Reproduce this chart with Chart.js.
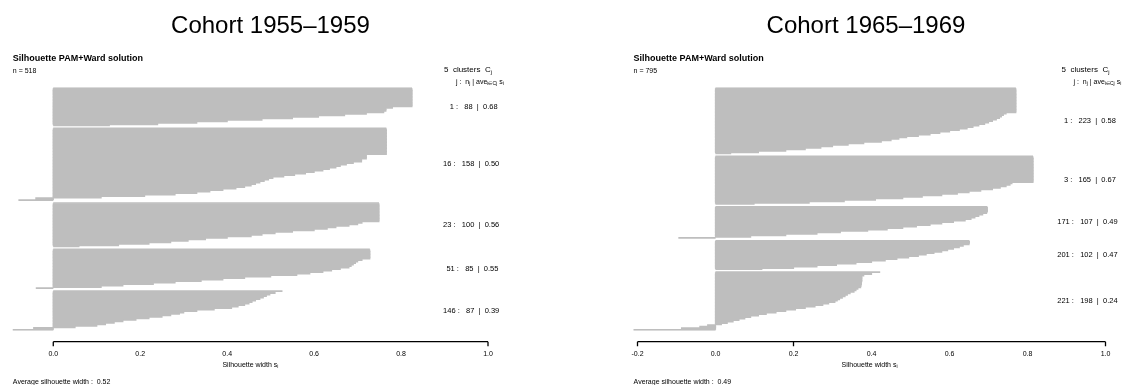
<!DOCTYPE html>
<html>
<head>
<meta charset="utf-8">
<script src="https://cdn.jsdelivr.net/npm/chart.js@4.4.1/dist/chart.umd.min.js"></script>
<style>
  html, body { margin: 0; padding: 0; background: #fff; }
  #wrap { position: relative; width: 1126px; height: 385px; overflow: hidden; }
  .panel { position: absolute; top: 0; width: 563px; height: 385px; }
</style>
</head>
<body>
<div id="wrap">
  <div class="panel" style="left:0"><canvas id="early" width="563" height="385"></canvas></div>
  <div class="panel" style="left:563px"><canvas id="late" width="563" height="385"></canvas></div>
</div>
<script>
// silhouette widths, one bar per entry, sorted inside each cluster

// Cohort 1955-1959
const early1 = [0.825, 0.825, 0.825, 0.825, 0.825, 0.825, 0.825, 0.825, 0.825, 0.825, 0.825, 0.825, 0.825,
  0.78, 0.765, 0.765, 0.76, 0.72, 0.67, 0.61, 0.55, 0.48, 0.40, 0.33, 0.24, 0.13];
const early2 = [0.766, 0.766, 0.766, 0.766, 0.766, 0.766, 0.766, 0.766, 0.766, 0.766, 0.766, 0.766, 0.766,
  0.766, 0.766, 0.766, 0.766, 0.766, 0.72, 0.72, 0.72, 0.709, 0.709, 0.69, 0.674, 0.66, 0.65, 0.635, 0.62,
  0.60, 0.58, 0.555, 0.53, 0.505, 0.495, 0.485, 0.475, 0.465, 0.455, 0.44, 0.42, 0.39, 0.36, 0.33, 0.28,
  0.21, 0.11, -0.04, -0.08];
const early3 = [0.749, 0.749, 0.749, 0.749, 0.749, 0.749, 0.749, 0.749, 0.749, 0.749, 0.749, 0.749, 0.749,
  0.71, 0.70, 0.68, 0.65, 0.63, 0.60, 0.55, 0.51, 0.48, 0.455, 0.40, 0.35, 0.31, 0.27, 0.22, 0.15, 0.06];
const early4 = [0.728, 0.728, 0.728, 0.728, 0.728, 0.728, 0.728, 0.71, 0.70, 0.695, 0.69, 0.685, 0.68,
  0.66, 0.64, 0.62, 0.59, 0.56, 0.50, 0.44, 0.39, 0.34, 0.28, 0.23, 0.16, 0.11, -0.04];
const early5 = [0.527, 0.51, 0.498, 0.49, 0.483, 0.475, 0.465, 0.457, 0.45, 0.44, 0.425, 0.41, 0.37, 0.33,
  0.30, 0.29, 0.27, 0.25, 0.22, 0.19, 0.16, 0.14, 0.12, 0.10, 0.05, -0.045, -0.093];
const earlyIds = ['1', '16', '23', '51', '146'];
const earlySizes = [88, 158, 100, 85, 87];
const earlyAvg = ['0.68', '0.50', '0.56', '0.55', '0.39'];
const earlyN = 518;
const earlyOverall = '0.52';
const earlyTicks = [0, 0.2, 0.4, 0.6, 0.8, 1.0];
const earlyTickLabels = ['0.0', '0.2', '0.4', '0.6', '0.8', '1.0'];
const earlyTickMarks = [0, 1.0];

// Cohort 1965-1969
const late1 = [0.77, 0.77, 0.77, 0.77, 0.77, 0.77, 0.77, 0.77, 0.77, 0.77, 0.77, 0.77, 0.77, 0.77, 0.77,
  0.77, 0.77, 0.745, 0.738, 0.733, 0.728, 0.72, 0.71, 0.70, 0.69, 0.675, 0.66, 0.645, 0.625, 0.60, 0.575,
  0.55, 0.52, 0.49, 0.47, 0.45, 0.425, 0.38, 0.34, 0.30, 0.27, 0.23, 0.18, 0.11, 0.04];
const late2 = [0.814, 0.814, 0.814, 0.814, 0.814, 0.814, 0.814, 0.814, 0.814, 0.814, 0.814, 0.814, 0.814,
  0.814, 0.814, 0.814, 0.814, 0.814, 0.76, 0.755, 0.745, 0.73, 0.71, 0.68, 0.65, 0.62, 0.58, 0.53, 0.48,
  0.41, 0.33, 0.24, 0.10];
const late3 = [0.697, 0.697, 0.697, 0.697, 0.695, 0.685, 0.675, 0.665, 0.655, 0.64, 0.61, 0.58, 0.55,
  0.515, 0.48, 0.44, 0.39, 0.32, 0.26, 0.18, 0.09, -0.095];
const late4 = [0.651, 0.651, 0.65, 0.635, 0.625, 0.61, 0.595, 0.58, 0.56, 0.54, 0.52, 0.495, 0.465, 0.435,
  0.40, 0.36, 0.31, 0.26, 0.20, 0.12];
const late5 = [0.422, 0.40, 0.38, 0.375, 0.375, 0.375, 0.375, 0.374, 0.374, 0.373, 0.372, 0.365, 0.36,
  0.355, 0.345, 0.338, 0.332, 0.325, 0.318, 0.312, 0.306, 0.29, 0.275, 0.255, 0.23, 0.205, 0.18, 0.155,
  0.13, 0.11, 0.09, 0.075, 0.06, 0.045, 0.03, 0.015, -0.02, -0.04, -0.087, -0.21];
const lateIds = ['1', '3', '171', '201', '221'];
const lateSizes = [223, 165, 107, 102, 198];
const lateAvg = ['0.58', '0.67', '0.49', '0.47', '0.24'];
const lateN = 795;
const lateOverall = '0.49';
const lateTicks = [-0.2, 0, 0.2, 0.4, 0.6, 0.8, 1.0];
const lateTickLabels = ['-0.2', '0.0', '0.2', '0.4', '0.6', '0.8', '1.0'];
const lateTickMarks = [-0.2, 0.2, 1.0];

const FAMILY = '"Liberation Sans", Arial, Helvetica, sans-serif';
const font = (px, bold) => (bold ? 'bold ' : '') + px + 'px ' + FAMILY;

// text with subscripts: parts = [[text, isSub], ...]
function runsWidth(ctx, parts, px) {
  let w = 0;
  for (const [t, sub] of parts) {
    ctx.font = font(sub ? px * 0.72 : px);
    w += ctx.measureText(t).width;
  }
  return w;
}
function drawRuns(ctx, parts, x, y, px) {
  let cx = x;
  for (const [t, sub] of parts) {
    ctx.font = font(sub ? px * 0.72 : px);
    ctx.fillText(t, cx, sub ? y + px * 0.3 : y);
    cx += ctx.measureText(t).width;
  }
}

function buildPanel(canvasId, p) {
  const labels = [], data = [], owner = [], edge = [];
  p.values.forEach((vals, j) => {
    if (j > 0) { labels.push('gap' + j); data.push(null); owner.push(-1); edge.push(false); }
    vals.forEach((v, i) => {
      labels.push(j + '-' + i);
      data.push(v);
      owner.push(j);
      edge.push(i === 0 || i === vals.length - 1);
    });
  });
  const minS = Math.min(...p.values.flat());

  const annotate = {
    id: 'annotate',
    afterDraw(chart) {
      const { ctx, scales: { x, y } } = chart;
      const one = x.getPixelForValue(1);
      const left = x.getPixelForValue(minS);
      ctx.save();
      ctx.fillStyle = '#000';
      ctx.textBaseline = 'middle';

      ctx.textAlign = 'center';
      ctx.font = font(24);
      ctx.fillText(p.title, p.titleX, 26);

      ctx.textAlign = 'left';
      ctx.font = font(9, true);
      ctx.fillText('Silhouette PAM+Ward solution', left, 59);
      ctx.font = font(7);
      ctx.fillText('n = ' + p.n, left, 71);

      drawRuns(ctx, [[p.values.length + '  clusters  C'], ['j', true]], one - 44, 70, 8);
      drawRuns(ctx, [['j :  n'], ['j', true], [' | ave'], ['i\u2208Cj', true], [' s'], ['i', true]],
        one - 32, 81.7, 7);

      // per-cluster labels at the mean bar position
      ctx.font = font(7.5);
      p.values.forEach((vals, j) => {
        let sum = 0, cnt = 0;
        owner.forEach((o, i) => { if (o === j) { sum += y.getPixelForValue(i); cnt++; } });
        const txt = p.ids[j] + ' :   ' + p.sizes[j] + '  |  ' + p.avgs[j];
        const w = ctx.measureText(txt).width;
        ctx.fillText(txt, one - 0.8 * w, sum / cnt);
      });

      // x axis
      const ay = 341.7;
      ctx.strokeStyle = '#000';
      ctx.lineWidth = 1.3;
      ctx.beginPath();
      ctx.moveTo(x.getPixelForValue(p.ticks[0]), ay);
      ctx.lineTo(x.getPixelForValue(p.ticks[p.ticks.length - 1]), ay);
      p.tickMarks.forEach(t => {
        const tx = x.getPixelForValue(t);
        ctx.moveTo(tx, ay);
        ctx.lineTo(tx, ay + 4.5);
      });
      ctx.stroke();

      ctx.textAlign = 'center';
      ctx.font = font(7);
      p.ticks.forEach((t, i) => ctx.fillText(p.tickLabels[i], x.getPixelForValue(t), 354));

      const xlab = [['Silhouette width s'], ['i', true]];
      const xw = runsWidth(ctx, xlab, 7);
      ctx.textAlign = 'left';
      drawRuns(ctx, xlab, x.getPixelForValue((minS + 1) / 2) - xw / 2, 365, 7);

      ctx.font = font(7);
      ctx.fillText('Average silhouette width :  ' + p.overall, left, 381.7);
      ctx.restore();
    }
  };

  return new Chart(document.getElementById(canvasId), {
    type: 'bar',
    data: {
      labels,
      datasets: [{
        data,
        backgroundColor: '#bebebe',
        borderWidth: 0,
        barPercentage: 1,
        categoryPercentage: 1,
        // overlap neighbouring bars so no seams show, keep the cluster gaps open
        inflateAmount: c => (edge[c.dataIndex] ? 0.1 : 0.6)
      }]
    },
    options: {
      indexAxis: 'y',
      responsive: false,
      animation: false,
      layout: { padding: p.pad },
      scales: {
        x: { display: false, min: p.xMin, max: 1 },
        y: { display: false }
      },
      plugins: { legend: { display: false }, tooltip: { enabled: false } }
    },
    plugins: [annotate]
  });
}

buildPanel('early', {
  title: 'Cohort 1955\u20131959', titleX: 270.5,
  values: [early1, early2, early3, early4, early5],
  ids: earlyIds, sizes: earlySizes, avgs: earlyAvg, n: earlyN, overall: earlyOverall,
  ticks: earlyTicks, tickLabels: earlyTickLabels, tickMarks: earlyTickMarks,
  xMin: -0.1,
  pad: { left: 9.8, right: 75, top: 87.3, bottom: 54.3 }
});

buildPanel('late', {
  title: 'Cohort 1965\u20131969', titleX: 303,
  values: [late1, late2, late3, late4, late5],
  ids: lateIds, sizes: lateSizes, avgs: lateAvg, n: lateN, overall: lateOverall,
  ticks: lateTicks, tickLabels: lateTickLabels, tickMarks: lateTickMarks,
  xMin: -0.22,
  pad: { left: 66.7, right: 20.5, top: 87.3, bottom: 54.3 }
});
</script>
</body>
</html>
